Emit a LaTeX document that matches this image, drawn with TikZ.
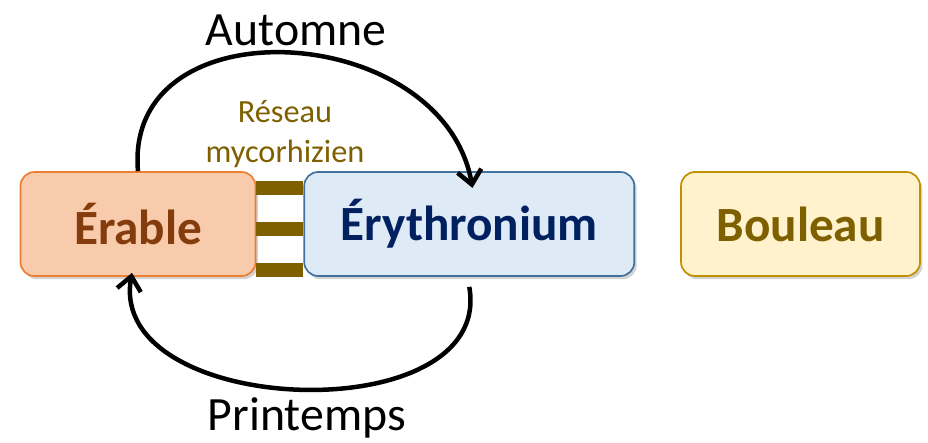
\documentclass[tikz,border=0pt]{standalone}
\usepackage{fontspec}
\setmainfont{Carlito}
\usepackage{xcolor}
\usetikzlibrary{
arrows.meta,
positioning,
shadows
}
\definecolor{erableline}{HTML}{ED7D31}
\definecolor{erablefill}{HTML}{F8CBAD}
\definecolor{erabletext}{HTML}{843C0C}
\definecolor{erythline}{HTML}{41719C}
\definecolor{erythfill}{HTML}{DEEBF7}
\definecolor{erythtext}{HTML}{002060}
\definecolor{bouleline}{HTML}{BF9000}
\definecolor{boulefill}{HTML}{FFF2CC}
\definecolor{olive}{HTML}{7F6000}
\tikzset{
  plantbox/.style={shape=rectangle, rounded corners=0.35cm, line width=1.2pt,
    minimum height=2.6cm, inner sep=0pt,
    font=\fontsize{35}{42}\selectfont\bfseries,
    drop shadow={opacity=0.35, shadow xshift=0.06cm, shadow yshift=-0.08cm}},
  season/.style={line width=3.2pt,
    -{Straight Barb[length=0.35cm,width=0.6cm,line width=3.2pt]}},
  seasonlabel/.style={font=\fontsize{34}{40}\selectfont},
  mycbar/.style={draw=olive, line width=0.33cm}
}

\begin{document}
\begin{tikzpicture}[x=0.025cm, y=-0.025cm]
    \useasboundingbox (0,0) rectangle (928,442);
    \node [plantbox, draw=erableline, fill=erablefill, text=erabletext,
           minimum width=5.875cm] (erable) at (138,224) {Érable};
    \node [plantbox, draw=erythline, fill=erythfill, text=erythtext,
           minimum width=8.25cm, right = 1.175cm of erable] (erythro) {Érythronium};
    \node [plantbox, draw=bouleline, fill=boulefill, text=olive,
           minimum width=5.975cm, right = 1.125cm of erythro] (bouleau) {Bouleau};
    % reseau mycorhizien
    \foreach \dy in {-36,5,46}
      \draw[mycbar] ([yshift=\dy*-0.025cm]erable.east) -- ([yshift=\dy*-0.025cm]erythro.west);
    \node [font=\fontsize{23}{28}\selectfont, text=olive, align=center] (reseau) at (285,134)
          {Réseau\\mycorhizien};
    % saisons
    \coordinate (topend) at ([xshift=0.08cm, yshift=-0.42cm]erythro.north);
    \coordinate (botstart) at ([yshift=-0.25cm]erythro.south);
    \coordinate (botend) at ([xshift=-0.15cm, yshift=0.1cm]erable.south);
    \draw[season] (erable.north) to [out=95,in=100,looseness=1.3] (topend);
    \draw[season] (botstart) to [out=-80,in=-100,looseness=1.12] (botend);
    \node [seasonlabel] (automne) at (296,30) {Automne};
    \node [seasonlabel] (printemps) at (307,418) {Printemps};
\end{tikzpicture}
\end{document}
